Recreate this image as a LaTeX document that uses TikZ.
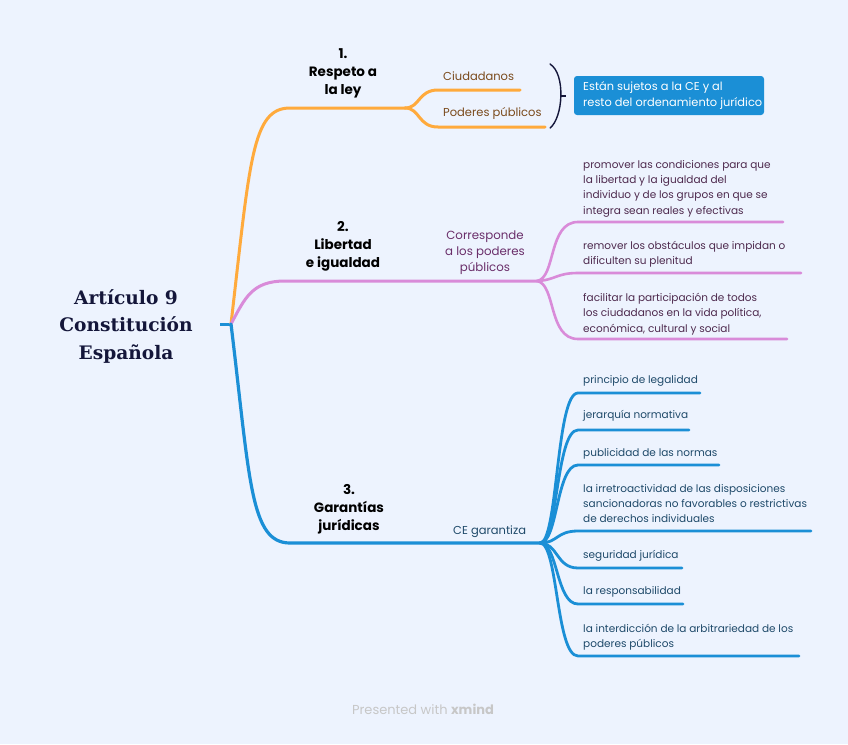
\documentclass[tikz,border=0pt]{standalone}
\usepackage{fontspec}
\setmainfont{Poppins}
\newfontfamily\titlefont{DejaVu Serif}
\definecolor{bgc}{HTML}{EDF3FE}
\definecolor{orng}{HTML}{FFAA3C}
\definecolor{purp}{HTML}{D98BD9}
\definecolor{blu}{HTML}{1B8FD6}
\definecolor{brown}{HTML}{7A4A1C}
\definecolor{dpurp}{HTML}{6A2E6A}
\definecolor{itpurp}{HTML}{4E2A4E}
\definecolor{dblue}{HTML}{1F4A6A}
\definecolor{navy}{HTML}{14163A}
\tikzset{
  main/.style={align=center, font=\fontsize{13.5}{18}\selectfont\bfseries, text=black, inner sep=0pt},
  sub/.style={font=\fontsize{11.5}{16}\selectfont, inner sep=0pt},
  item/.style={anchor=north west, align=left, font=\fontsize{10.5}{15.3}\selectfont, inner sep=0pt},
  ob/.style={orng, line width=3pt, line cap=round},
  pb/.style={purp, line width=3pt, line cap=round},
  bb/.style={blu, line width=3.2pt, line cap=round},
}
\begin{document}
\begin{tikzpicture}[x=1pt,y=-1pt]
\fill[bgc] (0,0) rectangle (848,744);
\useasboundingbox (0,0) rectangle (848,744);

% root
\node[align=center, font=\titlefont\fontsize{18.6}{27.5}\selectfont\bfseries, text=navy, inner sep=0pt] (root) at (126,326) {Artículo 9\\Constitución\\Española};
\coordinate (r) at (231,324);
\coordinate (rs) at (220,324);
\draw[blu, line width=3pt] (rs) -- (r);

% branch 1
\coordinate (f1) at (405,108);
\draw[ob] (r) .. controls (250,160) and (252,108) .. (290,108) -- (f1);
\node[main] (n1) at (343,73) {1.\\Respeto a\\la ley};
\coordinate (c1e) at (520,90);
\coordinate (c2e) at (545,127);
\draw[ob] (f1) .. controls (420,108) and (418,90) .. (438,90) -- (c1e);
\draw[ob] (f1) .. controls (420,108) and (418,127) .. (438,127) -- (c2e);
\node[sub, text=brown, anchor=base west] (ciu) at (443,80) {Ciudadanos};
\node[sub, text=brown, anchor=base west] (pod) at (443,116) {Poderes públicos};
\coordinate (b1) at (550,64);
\coordinate (b2) at (550,128);
\coordinate (bm) at (561,96);
\coordinate (bt) at (566,96);
\draw[navy, line width=1.4pt, line cap=round] (b1) .. controls (566,74) and (563,118) .. (b2);
\draw[navy, line width=1.2pt] (bm) -- (bt);
\node[fill=blu, rounded corners=3pt, minimum width=190pt, minimum height=39pt, inner sep=0pt] (box) at (669,95.5) {};
\node[item, text=white, font=\fontsize{11.4}{15.5}\selectfont, anchor=west] (boxt) at (583,95.5) {Están sujetos a la CE y al\\resto del ordenamiento jurídico};

% branch 2
\coordinate (f2) at (537,281);
\draw[pb] (r) .. controls (245,298) and (252,281) .. (285,281) -- (f2);
\node[main] (n2) at (343,246) {2.\\Libertad\\e igualdad};
\node[sub, align=center, text=dpurp, font=\fontsize{11.8}{16}\selectfont] (corr) at (485,253) {Corresponde\\a los poderes\\públicos};
\coordinate (p1e) at (783,222);
\coordinate (p2e) at (801,273);
\coordinate (p3e) at (787,339);
\draw[pb, line width=2.6pt] (f2) .. controls (556,278) and (548,222) .. (578,222) -- (p1e);
\draw[pb, line width=2.6pt] (f2) .. controls (556,280) and (556,273) .. (578,273) -- (p2e);
\draw[pb, line width=2.6pt] (f2) .. controls (556,284) and (548,339) .. (578,339) -- (p3e);
\node[item, text=itpurp] (p1) at (583,160) {promover las condiciones para que\\la libertad y la igualdad del\\individuo y de los grupos en que se\\integra sean reales y efectivas};
\node[item, text=itpurp] (p2) at (583,241) {remover los obstáculos que impidan o\\dificulten su plenitud};
\node[item, text=itpurp] (p3) at (583,293) {facilitar la participación de todos\\los ciudadanos en la vida política,\\económica, cultural y social};

% branch 3
\coordinate (f3) at (540,543);
\draw[bb] (r) .. controls (250,480) and (250,543) .. (290,543) -- (f3);
\node[main] (n3) at (349,509) {3.\\Garantías\\jurídicas};
\node[sub, text=dblue, anchor=base west] (ceg) at (453,534) {CE garantiza};
\foreach \yy/\xe/\nm in {393/700/q1, 430/689/q2, 465/719/q3, 531/811/q4, 568/682/q5, 604/683/q6, 656/799/q7}{
  \coordinate (\nm e) at (\xe,\yy);
  \draw[bb, line width=2.8pt] (f3) .. controls (558,543) and (556,\yy) .. (578,\yy) -- (\nm e);
}
\node[item, text=dblue] (t1) at (583,375) {principio de legalidad};
\node[item, text=dblue] (t2) at (583,410) {jerarquía normativa};
\node[item, text=dblue] (t3) at (583,448) {publicidad de las normas};
\node[item, text=dblue] (t4) at (583,484) {la irretroactividad de las disposiciones\\sancionadoras no favorables o restrictivas\\de derechos individuales};
\node[item, text=dblue] (t5) at (583,550) {seguridad jurídica};
\node[item, text=dblue] (t6) at (583,586) {la responsabilidad};
\node[item, text=dblue] (t7) at (583,624) {la interdicción de la arbitrariedad de los\\poderes públicos};

\node[font=\fontsize{13}{15}\selectfont, text=black!22, inner sep=0pt] (pw) at (423,709) {Presented with \textbf{xmind}};
\end{tikzpicture}
\end{document}
